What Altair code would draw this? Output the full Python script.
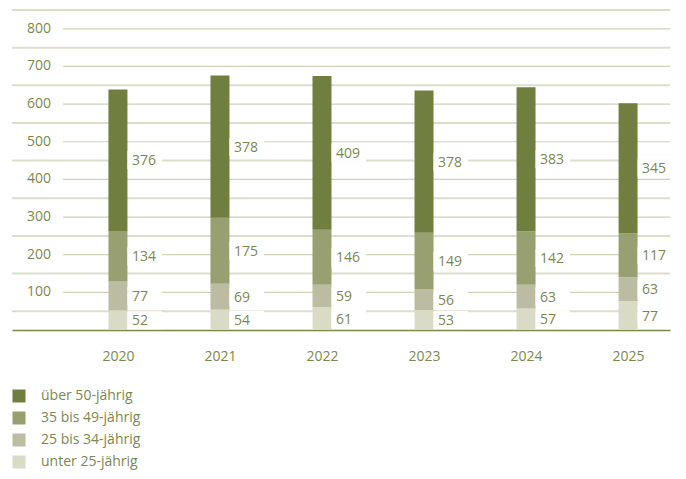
import altair as alt
import pandas as pd

years = [2020, 2021, 2022, 2023, 2024, 2025]
groups = ["über 50-jährig", "35 bis 49-jährig", "25 bis 34-jährig", "unter 25-jährig"]
unter25 = [52, 54, 61, 53, 57, 77]
age25_34 = [77, 69, 59, 56, 63, 63]
age35_49 = [134, 175, 146, 149, 142, 117]
ueber50 = [376, 378, 409, 378, 383, 345]
colors = ["#707f3f", "#98a071", "#bcbca3", "#d9dbc7"]
major_ticks = [100, 200, 300, 400, 500, 600, 700, 800]
minor_lines = [50, 150, 250, 350, 450, 550, 650, 750, 850]

TXT = "#7b874f"
FONT = "Open Sans"

rows = []
for name, rank, vals in [(groups[3], 1, unter25), (groups[2], 2, age25_34),
                         (groups[1], 3, age35_49), (groups[0], 4, ueber50)]:
    for yr, v in zip(years, vals):
        rows.append({"year": yr, "group": name, "rank": rank, "value": v})
df = pd.DataFrame(rows)

W, H = 658, 320
xscale = alt.Scale(domain=[2019.0106, 2025.362], nice=False, zero=False)
yscale = alt.Scale(domain=[0, 850], nice=False, zero=True)
xaxis = alt.Axis(values=years, format="d", grid=False, ticks=False,
                 domainColor="#7a8a45", domainWidth=1.6,
                 labelFont=FONT, labelFontSize=14, labelColor=TXT,
                 labelPadding=19, title=None)

minor_df = pd.DataFrame({"v": minor_lines})
major_df = pd.DataFrame({"v": major_ticks})

minor = alt.Chart(minor_df).mark_rule(color="#dcdecb", strokeWidth=2).encode(
    y=alt.Y("v:Q", scale=yscale, axis=None),
    x=alt.value(0), x2=alt.value(W))

major = alt.Chart(major_df).mark_rule(color="#cfd1b8", strokeWidth=1.2).encode(
    y=alt.Y("v:Q", scale=yscale, axis=None),
    x=alt.value(51), x2=alt.value(W))

ylabels = alt.Chart(major_df).mark_text(
    align="right", baseline="middle", font=FONT, fontSize=14, color=TXT).encode(
    y=alt.Y("v:Q", scale=yscale, axis=None),
    x=alt.value(39), text=alt.Text("v:Q"))

base = alt.Chart(df).transform_stack(
    stack="value", groupby=["year"], as_=["y0", "y1"],
    sort=[alt.SortField("rank", order="ascending")]
).transform_calculate(mid="(datum.y0 + datum.y1) / 2")

bars = base.mark_bar(size=19).encode(
    x=alt.X("year:Q", scale=xscale, axis=xaxis),
    y=alt.Y("y0:Q", scale=yscale, axis=None),
    y2="y1:Q",
    color=alt.Color("group:N", scale=alt.Scale(domain=groups, range=colors),
                    legend=alt.Legend(orient="none", legendX=0, legendY=379,
                                      title=None, symbolType="square",
                                      symbolSize=169, symbolStrokeWidth=0,
                                      labelFont=FONT, labelFontSize=14,
                                      labelColor=TXT, rowPadding=8,
                                      labelOffset=15, padding=0)))

boxes = base.mark_rect(color="white", xOffset=9.5, x2Offset=44,
                       yOffset=-9, y2Offset=9).encode(
    x=alt.X("year:Q", scale=xscale, axis=xaxis), x2="year:Q",
    y=alt.Y("mid:Q", scale=yscale, axis=None), y2="mid:Q")

labels = base.mark_text(align="left", baseline="middle", dx=14, dy=1,
                        font=FONT, fontSize=14, color=TXT).encode(
    x=alt.X("year:Q", scale=xscale, axis=xaxis),
    y=alt.Y("mid:Q", scale=yscale, axis=None),
    text=alt.Text("value:Q"))

chart = alt.layer(minor, major, ylabels, bars, boxes, labels).properties(
    width=W, height=H,
    padding={"left": 4, "top": 2, "right": 8, "bottom": 141},
    autosize=alt.AutoSizeParams(type="none"),
).configure_view(stroke=None)

chart.save("out.html", embed_options={"renderer": "svg", "actions": False})
